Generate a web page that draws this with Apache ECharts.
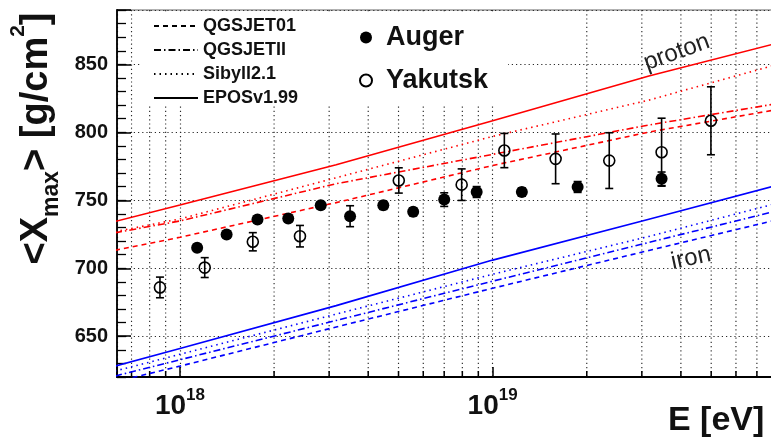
<!DOCTYPE html>
<html>
<head>
<meta charset="utf-8">
<script src="https://cdn.jsdelivr.net/npm/echarts@6/dist/echarts.min.js"></script>
<style>
  html, body { margin: 0; padding: 0; background: #fff; }
  #chart { width: 771px; height: 448px; }
</style>
</head>
<body>
<div id="chart"></div>
<script>
// ---- Axis ranges -------------------------------------------------------
const energyMin = 6.29e17;   // eV
const energyMax = 7.94e19;   // eV
const depthMin = 620;        // g/cm^2
const depthMax = 890;        // g/cm^2

// Tick energies between the labelled decades
const minorTickEnergies = [7e17, 8e17, 9e17,
  2e18, 3e18, 4e18, 5e18, 6e18, 7e18, 8e18, 9e18,
  2e19, 3e19, 4e19, 5e19, 6e19, 7e19];

// ---- Model predictions of <Xmax> ----------------------------------------
const modelEnergy   = [6.2e17, 1e18, 3.16e18, 1e19, 3.16e19, 8.0e19];
const protonEPOS    = [734.4, 746.5, 776.1, 808.5, 841.4, 865.2];
const protonSibyll  = [726.9, 736.3, 766.6, 797.0, 823.7, 849.5];
const protonQGSII   = [726.1, 734.8, 762.2, 783.8, 805.4, 820.9];
const protonQGS01   = [713.2, 722.8, 748.3, 775.6, 800.2, 816.5];
const ironEPOS      = [628.0, 641.0, 672.5, 706.0, 736.1, 760.6];
const ironSibyll    = [624.4, 636.7, 666.3, 695.6, 723.4, 747.4];
const ironQGSII     = [620.7, 632.7, 661.6, 690.5, 719.0, 741.9];
const ironQGS01     = [616.4, 628.0, 656.8, 685.3, 713.1, 735.3];

// ---- Measurements -------------------------------------------------------
const augerEnergy = [1.135e18, 1.41e18, 1.77e18, 2.22e18, 2.82e18, 3.50e18, 4.47e18,
                     5.57e18, 7.00e18, 8.89e18, 1.24e19, 1.87e19, 3.47e19];
const augerXmax   = [715.1, 724.9, 735.8, 736.6, 746.3, 738.3, 746.3,
                     741.5, 750.5, 756.1, 756.1, 759.8, 765.8];
const augerErr    = [2.5, 2.5, 2.5, 2.5, 2.5, 7.7, 3, 3, 5, 4, 3, 4, 5];

const yakutskEnergy = [8.63e17, 1.20e18, 1.71e18, 2.42e18, 5.01e18, 7.96e18,
                       1.09e19, 1.59e19, 2.36e19, 3.47e19, 4.99e19];
const yakutskXmax   = [685.9, 700.5, 719.5, 723.6, 764.6, 761.5,
                       786.6, 780.5, 779.2, 785.4, 808.5];
const yakutskErr    = [7.6, 7.3, 6.7, 7.9, 9.3, 11.6, 12.6, 18.3, 20.5, 25, 25];

// ---- Text ----------------------------------------------------------------
const modelNames = ['QGSJET01', 'QGSJETII', 'Sibyll2.1', 'EPOSv1.99'];
const dataNames = ['Auger', 'Yakutsk'];
const xTitle = 'E [eV]';
const curveLabels = ['proton', 'iron'];
const curveLabelEnergy = [3.88e19, 4.31e19];
const curveLabelDepth = [858.8, 707.3];
const curveLabelAngle = [20, 12];

// ---- Styling ---------------------------------------------------------------
const FONT = '"Liberation Sans", Arial, Helvetica, sans-serif';
const dashStyles = {
  QGSJET01: [5, 4],
  QGSJETII: [7, 3, 1.5, 3],
  'Sibyll2.1': [1.5, 4],
  'EPOSv1.99': 'solid'
};
const gridDots = { color: '#2a2a2a', width: 1.15, type: [1.2, 3] };

const zip = (xs, ys) => xs.map((x, i) => [x, ys[i]]);

function modelSeries(name, values, color, model) {
  return {
    type: 'line', name: name, data: zip(modelEnergy, values),
    symbol: 'none', silent: true, z: 2, clip: true,
    lineStyle: { color: color, width: 1.6, type: dashStyles[model] }
  };
}

function legendSeries(model) {
  return {
    type: 'line', name: model, data: [], symbol: 'none',
    itemStyle: { color: '#000', opacity: 0 },
    lineStyle: { color: '#000', width: 1.5, type: dashStyles[model] }
  };
}

function renderMinorGrid(params, api) {
  const x = api.coord([api.value(0), depthMin])[0];
  const cs = params.coordSys;
  return {
    type: 'group',
    children: [
      { type: 'line', shape: { x1: x, y1: cs.y, x2: x, y2: cs.y + cs.height },
        style: { stroke: gridDots.color, lineWidth: gridDots.width, lineDash: gridDots.type } },
      { type: 'line', shape: { x1: x, y1: cs.y + cs.height, x2: x, y2: cs.y + cs.height - 6 },
        style: { stroke: '#000', lineWidth: 1.5 } }
    ]
  };
}

function renderErrorBar(params, api) {
  const e = api.value(0), v = api.value(1), s = api.value(2);
  const hi = api.coord([e, v + s]);
  const lo = api.coord([e, v - s]);
  const cap = 4;
  const style = { stroke: '#000', lineWidth: 1.6 };
  return {
    type: 'group',
    children: [
      { type: 'line', shape: { x1: hi[0], y1: hi[1], x2: lo[0], y2: lo[1] }, style: style },
      { type: 'line', shape: { x1: hi[0] - cap, y1: hi[1], x2: hi[0] + cap, y2: hi[1] }, style: style },
      { type: 'line', shape: { x1: lo[0] - cap, y1: lo[1], x2: lo[0] + cap, y2: lo[1] }, style: style }
    ]
  };
}

const chart = echarts.init(document.getElementById('chart'), null, { renderer: 'canvas' });

const option = {
  animation: false,
  backgroundColor: '#fff',
  textStyle: { fontFamily: FONT },
  title: {
    text: xTitle, left: 668, top: 404, padding: 0,
    textStyle: { fontFamily: FONT, fontSize: 34, fontWeight: 'bold', color: '#111' }
  },
  grid: {
    left: 117, right: -3, top: 10, bottom: 71,
    show: true, borderColor: '#999', borderWidth: 1.5, backgroundColor: 'transparent',
    containLabel: false, outerBoundsMode: 'none'
  },
  xAxis: {
    type: 'log', logBase: 10, min: energyMin, max: energyMax,
    axisLine: { show: true, onZero: false, lineStyle: { color: '#000', width: 1.8 } },
    axisTick: { show: true, inside: true, length: 10, lineStyle: { color: '#000', width: 1.5 } },
    splitLine: { show: true, lineStyle: gridDots },
    minorTick: { show: false },
    axisLabel: {
      margin: 10, color: '#111',
      showMinLabel: true, showMaxLabel: true, hideOverlap: false,
      formatter: function (v) {
        const p = Math.log10(v);
        if (Math.abs(p - Math.round(p)) > 1e-6) return '';
        return '{b|10}{s|' + Math.round(p) + '}';
      },
      rich: {
        b: { fontFamily: FONT, fontSize: 28, fontWeight: 'bold', color: '#111',
             lineHeight: 28, padding: [5, 0, 0, 0], verticalAlign: 'top' },
        s: { fontFamily: FONT, fontSize: 17, fontWeight: 'bold', color: '#111',
             lineHeight: 17, verticalAlign: 'top' }
      }
    }
  },
  yAxis: [
    {
      type: 'value', position: 'left', min: depthMin, max: depthMax, splitNumber: 5,
      nameMoveOverlap: false,
      axisLine: { show: true, onZero: false, lineStyle: { color: '#000', width: 1.8 } },
      axisTick: { show: true, inside: true, length: 14, lineStyle: { color: '#000', width: 1.5 } },
      splitLine: { show: true, lineStyle: gridDots },
      axisLabel: {
        margin: 9, color: '#111', fontFamily: FONT, fontSize: 20, fontWeight: 'bold',
        showMinLabel: true, showMaxLabel: true,
        formatter: function (v) { return v % 50 === 0 ? String(v) : ''; }
      },
      name: '{a|<X}{sub|max}{a|> [g/cm}{sup|2}{a|]}',
      nameLocation: 'middle', nameRotate: 90, nameGap: 71,
      nameTextStyle: {
        fontFamily: FONT, fontSize: 38, fontWeight: 'bold', color: '#111',
        padding: [0, 0, 0, 110],
        rich: {
          a: { fontFamily: FONT, fontSize: 38, fontWeight: 'bold', color: '#111',
               lineHeight: 38, padding: [10, 0, 0, 0], verticalAlign: 'top' },
          sup: { fontFamily: FONT, fontSize: 21, fontWeight: 'bold', color: '#111',
                 lineHeight: 21, verticalAlign: 'top' },
          sub: { fontFamily: FONT, fontSize: 23, fontWeight: 'bold', color: '#111',
                 lineHeight: 23, padding: [32, 0, 0, 0], verticalAlign: 'top' }
        }
      }
    },
    {
      type: 'value', position: 'left', min: depthMin, max: depthMax, interval: 10,
      axisLine: { show: false },
      axisTick: { show: true, inside: true, length: 9, lineStyle: { color: '#000', width: 1.3 } },
      axisLabel: { show: false },
      splitLine: { show: false }
    }
  ],
  legend: [
    {
      orient: 'vertical', left: 153, top: 17, padding: 0, z: 6,
      itemWidth: 44, itemHeight: 14, itemGap: 6, selectedMode: false,
      textStyle: { fontFamily: FONT, fontSize: 18, fontWeight: 'bold', color: '#111', lineHeight: 18 },
      data: modelNames
    },
    {
      orient: 'vertical', left: 359, top: 24, padding: 0, z: 6,
      itemWidth: 30, itemHeight: 12, itemGap: 16, selectedMode: false,
      textStyle: { fontFamily: FONT, fontSize: 27, fontWeight: 'bold', color: '#111', lineHeight: 27 },
      data: dataNames
    }
  ],
  series: [
    {
      type: 'custom', name: 'minor grid', silent: true, z: 1,
      data: minorTickEnergies.map(e => [e, depthMin]),
      encode: { x: 0, y: 1 },
      renderItem: renderMinorGrid
    },
    modelSeries('proton EPOSv1.99', protonEPOS, '#ff0000', 'EPOSv1.99'),
    modelSeries('proton Sibyll2.1', protonSibyll, '#ff0000', 'Sibyll2.1'),
    modelSeries('proton QGSJETII', protonQGSII, '#ff0000', 'QGSJETII'),
    modelSeries('proton QGSJET01', protonQGS01, '#ff0000', 'QGSJET01'),
    modelSeries('iron EPOSv1.99', ironEPOS, '#0000ff', 'EPOSv1.99'),
    modelSeries('iron Sibyll2.1', ironSibyll, '#0000ff', 'Sibyll2.1'),
    modelSeries('iron QGSJETII', ironQGSII, '#0000ff', 'QGSJETII'),
    modelSeries('iron QGSJET01', ironQGS01, '#0000ff', 'QGSJET01'),
    legendSeries('QGSJET01'),
    legendSeries('QGSJETII'),
    legendSeries('Sibyll2.1'),
    legendSeries('EPOSv1.99'),
    {
      type: 'custom', name: 'Auger errors', silent: true, z: 3,
      data: augerEnergy.map((e, i) => [e, augerXmax[i], augerErr[i]]),
      encode: { x: 0, y: 1 },
      renderItem: renderErrorBar
    },
    {
      type: 'custom', name: 'Yakutsk errors', silent: true, z: 3,
      data: yakutskEnergy.map((e, i) => [e, yakutskXmax[i], yakutskErr[i]]),
      encode: { x: 0, y: 1 },
      renderItem: renderErrorBar
    },
    {
      type: 'scatter', name: 'Auger', z: 4, symbol: 'circle', symbolSize: 12,
      itemStyle: { color: '#000', opacity: 1 },
      data: zip(augerEnergy, augerXmax)
    },
    {
      type: 'scatter', name: 'Yakutsk', z: 4, symbol: 'circle', symbolSize: 11,
      itemStyle: { color: 'rgba(255,255,255,0)', borderColor: '#000', borderWidth: 1.6, opacity: 1 },
      data: zip(yakutskEnergy, yakutskXmax)
    }
  ]
};

chart.setOption(option);

// Legend backdrop and the curve-family annotations
const annotations = curveLabels.map(function (txt, i) {
  const p = chart.convertToPixel({ xAxisIndex: 0, yAxisIndex: 0 },
                                 [curveLabelEnergy[i], curveLabelDepth[i]]);
  return {
    type: 'text', x: p[0], y: p[1], z: 5, silent: true,
    rotation: curveLabelAngle[i] * Math.PI / 180,
    style: {
      text: txt, font: '24px ' + FONT, fill: '#222',
      align: 'center', verticalAlign: 'middle',
      textAlign: 'center', textVerticalAlign: 'middle'
    }
  };
});

chart.setOption({
  graphic: [
    { type: 'rect', z: 5, silent: true,
      shape: { x: 140, y: 12, width: 368, height: 94 },
      style: { fill: '#fff' } }
  ].concat(annotations)
});
</script>
</body>
</html>
